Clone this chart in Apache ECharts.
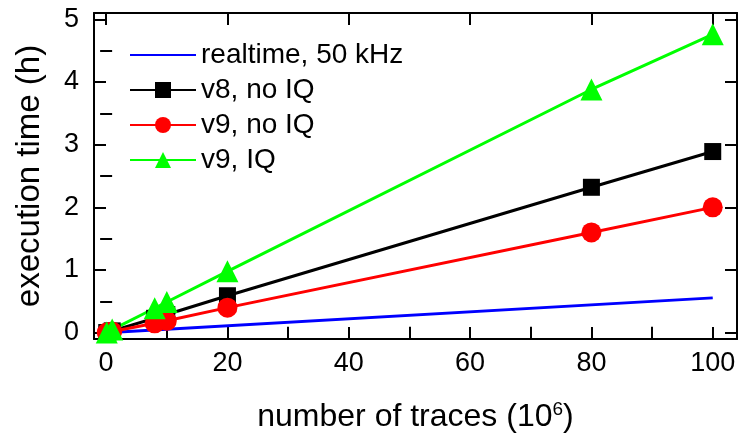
<!DOCTYPE html>
<html>
<head>
<meta charset="utf-8">
<script src="https://cdn.jsdelivr.net/npm/echarts@6/dist/echarts.min.js"></script>
<style>
  html, body { margin: 0; padding: 0; background: #fff; }
  #chart { width: 741px; height: 443px; }
</style>
</head>
<body>
<div id="chart"></div>
<script>
// number of traces (10^6)
var traces = [0.1, 1, 8, 10, 20, 80, 100];
var v8NoIQ = [0.003, 0.03, 0.23, 0.29, 0.59, 2.32, 2.89];
var v9NoIQ = [0.002, 0.02, 0.15, 0.19, 0.40, 1.60, 2.00];
var v9IQ = [0.005, 0.05, 0.39, 0.49, 0.98, 3.88, 4.76];
var realtimeX = [0, 100];
var realtimeY = [0, 0.556];

var xMajor = [0, 20, 40, 60, 80, 100];
var xMinor = [10, 30, 50, 70, 90];
var yMajor = [0, 1, 2, 3, 4, 5];
var yMinor = [0.5, 1.5, 2.5, 3.5, 4.5];

var fontFamily = 'Liberation Sans, Arial, sans-serif';

function pairs(xs, ys) {
    var out = [];
    for (var i = 0; i < xs.length; i++) {
        out.push([xs[i], ys[i]]);
    }
    return out;
}

function makeAxis(dim, pos, ticks, len, opts) {
    var ax = {
        type: 'value',
        position: pos,
        min: dim == 'x' ? -2 : -0.1,
        max: dim == 'x' ? 104 : 5.1,
        splitLine: { show: false },
        axisLine: { show: true, onZero: false, lineStyle: { color: '#000', width: 2 } },
        axisTick: { show: true, inside: true, length: len, customValues: ticks,
            lineStyle: { color: '#000', width: 2 } },
        axisLabel: { show: false }
    };
    for (var k in opts) ax[k] = opts[k];
    return ax;
}

var chart = echarts.init(document.getElementById('chart'));

var option = {
    animation: false,
    textStyle: { fontFamily: fontFamily },
    grid: { left: 94, right: 4, top: 13, bottom: 104, containLabel: false },
    legend: {
        left: 124,
        top: 36,
        orient: 'vertical',
        itemWidth: 66,
        itemHeight: 20,
        itemGap: 7,
        textStyle: { fontSize: 28, lineHeight: 28, color: '#000', fontFamily: fontFamily },
        data: [
            { name: 'realtime, 50 kHz', itemStyle: { opacity: 0 } },
            'v8, no IQ', 'v9, no IQ', 'v9, IQ'
        ]
    },
    xAxis: [
        makeAxis('x', 'bottom', xMajor, 12, {
            axisLabel: { show: true, customValues: xMajor, margin: 11, fontSize: 27, color: '#000' },
            name: 'number of traces (10{sup|6})',
            nameLocation: 'middle',
            nameGap: 61,
            nameTextStyle: {
                fontSize: 32, color: '#000', verticalAlign: 'top',
                rich: { sup: { fontSize: 19, verticalAlign: 'top', padding: [0, 0, 16, 0] } }
            }
        }),
        makeAxis('x', 'bottom', xMinor, 6, { axisLine: { show: false } }),
        makeAxis('x', 'top', xMajor, 12, {}),
        makeAxis('x', 'top', xMinor, 6, { axisLine: { show: false } })
    ],
    yAxis: [
        makeAxis('y', 'left', yMajor, 12, {
            axisLabel: { show: true, customValues: yMajor, margin: 15, fontSize: 27, color: '#000' },
            name: 'execution time (h)',
            nameLocation: 'middle',
            nameGap: 48,
            nameTextStyle: { fontSize: 33, color: '#000' }
        }),
        makeAxis('y', 'left', yMinor, 6, { axisLine: { show: false } }),
        makeAxis('y', 'right', yMajor, 12, {}),
        makeAxis('y', 'right', yMinor, 6, { axisLine: { show: false } })
    ],
    series: [
        {
            name: 'realtime, 50 kHz',
            type: 'line',
            symbol: 'none',
            lineStyle: { color: '#0000ff', width: 3 },
            itemStyle: { color: '#0000ff' },
            data: pairs(realtimeX, realtimeY)
        },
        {
            name: 'v8, no IQ',
            type: 'line',
            symbol: 'rect',
            symbolSize: 17,
            lineStyle: { color: '#000', width: 3 },
            itemStyle: { color: '#000' },
            data: pairs(traces, v8NoIQ)
        },
        {
            name: 'v9, no IQ',
            type: 'line',
            symbol: 'circle',
            symbolSize: 20,
            lineStyle: { color: '#ff0000', width: 3 },
            itemStyle: { color: '#ff0000' },
            data: pairs(traces, v9NoIQ)
        },
        {
            name: 'v9, IQ',
            type: 'line',
            symbol: 'triangle',
            symbolSize: 22,
            lineStyle: { color: '#00ff00', width: 3 },
            itemStyle: { color: '#00ff00' },
            data: pairs(traces, v9IQ)
        }
    ]
};

chart.setOption(option);
</script>
</body>
</html>
